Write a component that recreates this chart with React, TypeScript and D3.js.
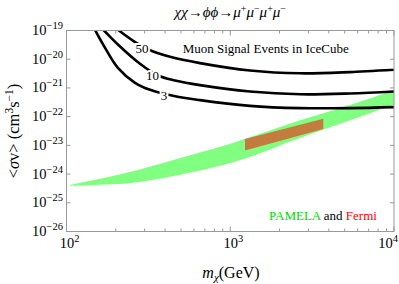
import React from "react";
import * as d3 from "d3";

// ---- data ----
const mass50 = [179, 206, 258, 319, 429, 653, 1320, 2667, 5385, 10000];
const sigma50 = [2.0e-19, 1.06e-19, 4.21e-20, 2.13e-20, 1.21e-20, 7.3e-21, 4.04e-21, 3.23e-21, 3.56e-21, 4.28e-21];
const mass10 = [149, 167, 206, 281, 362, 460, 653, 1320, 2667, 5385, 10000];
const sigma10 = [2.0e-19, 1.08e-19, 3.25e-20, 6.92e-21, 2.7e-21, 1.81e-21, 1.25e-21, 7.5e-22, 6.0e-22, 6.4e-22, 7.5e-22];
const mass3 = [141, 149, 172, 206, 262, 324, 447, 653, 1320, 2667, 5385, 10000];
const sigma3 = [2.0e-19, 1.08e-19, 2.49e-20, 5.0e-21, 1.51e-21, 8.6e-22, 5.3e-22, 3.76e-22, 2.38e-22, 1.98e-22, 1.98e-22, 2.14e-22];
const curveLabels = ["50", "10", "3"];
const curveLabelMass = [289, 335, 394];
const curveLabelSigma = [2.3e-20, 2.75e-21, 5.5e-22];

const pamelaMass = [105, 150, 240, 383, 612, 1025, 2667, 5385, 10000];
const pamelaUpper = [4.2e-25, 6.3e-25, 1.16e-24, 2.4e-24, 5.06e-24, 1.19e-23, 7.43e-23, 2.56e-22, 8.24e-22];
const pamelaLower = [3.9e-25, 4.2e-25, 4.8e-25, 7.2e-25, 1.22e-24, 2.52e-24, 1.82e-23, 7.5e-23, 2.58e-22];

const fermiMass = [1230, 3700];
const fermiUpper = [1.65e-23, 8.4e-23];
const fermiLower = [6.6e-24, 3.7e-23];

const xMajor = [100, 1000, 10000];
const xMajorExp = ["2", "3", "4"];
const yMajorExp = [-19, -20, -21, -22, -23, -24, -25, -26];

// ---- layout ----
const W = 399, H = 284;
const L = 66.5, R = 394, T = 30.5, B = 231.5;
const serif = "Liberation Serif, DejaVu Serif, serif";
const frameColor = "#999";

export default function App() {
  const x = d3.scaleLog().domain([100, 10000]).range([L, R]);
  const y = d3.scaleLog().domain([1e-26, 1e-19]).range([B, T]);

  const line = d3
    .line<[number, number]>()
    .x((d) => x(d[0]))
    .y((d) => y(d[1]))
    .curve(d3.curveCatmullRom.alpha(0.5));

  const curves = [
    mass50.map((m, i) => [m, sigma50[i]] as [number, number]),
    mass10.map((m, i) => [m, sigma10[i]] as [number, number]),
    mass3.map((m, i) => [m, sigma3[i]] as [number, number]),
  ];

  const band = d3
    .area<number>()
    .x((_, i) => x(pamelaMass[i]))
    .y0((_, i) => y(pamelaLower[i]))
    .y1((_, i) => y(pamelaUpper[i]))
    .curve(d3.curveMonotoneX);

  const fermiPath =
    `M${x(fermiMass[0])},${y(fermiLower[0])}` +
    `L${x(fermiMass[0])},${y(fermiUpper[0])}` +
    `L${x(fermiMass[1])},${y(fermiUpper[1])}` +
    `L${x(fermiMass[1])},${y(fermiLower[1])}Z`;

  const minorX: number[] = [];
  for (const dec of [100, 1000]) for (let k = 2; k <= 9; k++) minorX.push(dec * k);

  return (
    <svg width={W} height={H} style={{ position: "absolute", left: 0, top: 0, background: "#fff", fontFamily: serif }}>
      <defs>
        <clipPath id="plotclip">
          <rect x={L} y={T} width={R - L} height={B - T} />
        </clipPath>
      </defs>

      {/* title */}
      <text x={(L + R) / 2} y={17} textAnchor="middle" fontSize={15} fontStyle="italic" style={{ fontFamily: serif }}>
        <tspan>χχ</tspan>
        <tspan fontStyle="normal">→</tspan>
        <tspan>ϕϕ</tspan>
        <tspan fontStyle="normal">→</tspan>
        <tspan>μ</tspan>
        <tspan dy={-5} fontSize={10} fontStyle="normal">+</tspan>
        <tspan dy={5}>μ</tspan>
        <tspan dy={-5} fontSize={10} fontStyle="normal">−</tspan>
        <tspan dy={5}>μ</tspan>
        <tspan dy={-5} fontSize={10} fontStyle="normal">+</tspan>
        <tspan dy={5}>μ</tspan>
        <tspan dy={-5} fontSize={10} fontStyle="normal">−</tspan>
      </text>

      <g clipPath="url(#plotclip)">
        <path d={band(pamelaMass) || ""} fill="#80ff80" stroke="none" />
        <path d={fermiPath} fill="#c47c3e" stroke="none" />
        {curves.map((c, i) => (
          <path key={i} d={line(c) || ""} fill="none" stroke="#000" strokeWidth={2.6} />
        ))}
        {curveLabels.map((t, i) => (
          <text
            key={t}
            x={x(curveLabelMass[i])}
            y={y(curveLabelSigma[i]) + 4.5}
            textAnchor="middle"
            fontSize={13}
            fill="#000"
            stroke="#fff"
            strokeWidth={4}
            paintOrder="stroke"
            style={{ fontFamily: serif }}
          >
            {t}
          </text>
        ))}
      </g>

      {/* annotations */}
      <text x={182.7} y={53} fontSize={13} style={{ fontFamily: serif }}>Muon Signal Events in IceCube</text>
      <text x={269} y={220} fontSize={13} style={{ fontFamily: serif }}>
        <tspan fill="#00dd00">PAMELA</tspan>
        <tspan fill="#000"> and </tspan>
        <tspan fill="#ff0000">Fermi</tspan>
      </text>

      {/* frame */}
      <rect x={L} y={T} width={R - L} height={B - T} fill="none" stroke={frameColor} strokeWidth={1} />

      {/* x ticks */}
      {xMajor.map((v) => (
        <g key={v}>
          <line x1={x(v)} x2={x(v)} y1={B} y2={B - 5} stroke={frameColor} />
          <line x1={x(v)} x2={x(v)} y1={T} y2={T + 5} stroke={frameColor} />
        </g>
      ))}
      {minorX.map((v) => (
        <g key={v}>
          <line x1={x(v)} x2={x(v)} y1={B} y2={B - 3} stroke={frameColor} />
          <line x1={x(v)} x2={x(v)} y1={T} y2={T + 3} stroke={frameColor} />
        </g>
      ))}
      {xMajor.map((v, i) => (
        <text
          key={v}
          x={i === xMajor.length - 1 ? 398 : x(v) + 3}
          y={248}
          textAnchor={i === xMajor.length - 1 ? "end" : "middle"}
          fontSize={14.5}
          style={{ fontFamily: serif }}
        >
          <tspan>10</tspan>
          <tspan dy={-6} fontSize={10.5}>{xMajorExp[i]}</tspan>
        </text>
      ))}

      {/* y ticks */}
      {yMajorExp.map((e) => {
        const v = Math.pow(10, e);
        return (
          <g key={e}>
            <line x1={L} x2={L + 4} y1={y(v)} y2={y(v)} stroke={frameColor} />
            <line x1={R} x2={R - 4} y1={y(v)} y2={y(v)} stroke={frameColor} />
            <text x={63} y={y(v) + 4.5} textAnchor="end" fontSize={14.5} style={{ fontFamily: serif }}>
              <tspan>10</tspan>
              <tspan dy={-6} fontSize={10.5}>{"−" + Math.abs(e)}</tspan>
            </text>
          </g>
        );
      })}

      {/* axis titles */}
      <text x={231} y={278} textAnchor="middle" fontSize={16} style={{ fontFamily: serif }}>
        <tspan fontStyle="italic">m</tspan>
        <tspan dy={3} fontSize={11} fontStyle="italic">χ</tspan>
        <tspan dy={-3}>(GeV)</tspan>
      </text>
      <text transform="translate(19,131) rotate(-90)" textAnchor="middle" fontSize={16.5} style={{ fontFamily: serif }}>
        <tspan>{"<"}</tspan>
        <tspan fontStyle="italic">σ</tspan>
        <tspan>{"v> (cm"}</tspan>
        <tspan dy={-6} fontSize={11.5}>3</tspan>
        <tspan dy={6}>s</tspan>
        <tspan dy={-6} fontSize={11.5}>−1</tspan>
        <tspan dy={6}>)</tspan>
      </text>
    </svg>
  );
}
